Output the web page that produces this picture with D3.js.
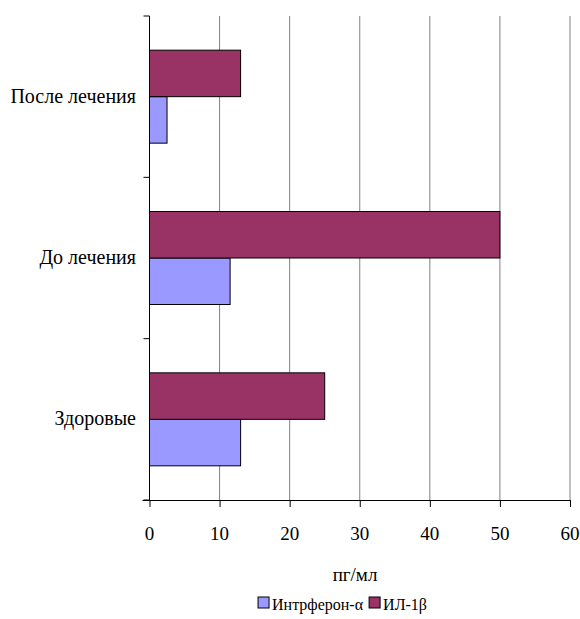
<!DOCTYPE html>
<html><head><meta charset="utf-8">
<script src="https://cdn.jsdelivr.net/npm/d3@7"></script>
</head><body style="margin:0;background:#fff">
<script>
const categories = ["Здоровые", "До лечения", "После лечения"];
const seriesNames = ["Интрферон-α", "ИЛ-1β"];
const interferon = [13, 11.5, 2.5];
const il1b = [25, 50, 13];
const xTicks = [0, 10, 20, 30, 40, 50, 60];
const xLabel = "пг/мл";
const colors = ["#9999FF", "#993366"];

(function () {
const FF = '"Liberation Serif", "Times New Roman", monospace';
const FS = 20;
const W = 580, H = 619;
const mL = 149.5, mR = 570, mT = 16, mB = 500;
const svg = d3.select("body").append("svg").attr("width", W).attr("height", H)
  .style("display", "block");

const x = d3.scaleLinear().domain([0, 60]).range([mL, mR]);
const y = d3.scaleBand().domain(categories.slice().reverse()).range([mT, mB]);
const inner = d3.scaleBand().domain(["ИЛ-1β", "Интрферон-α"]).range([0, y.bandwidth()]).paddingOuter(0.735).paddingInner(0);

// gridlines
svg.append("g").selectAll("line").data(xTicks.slice(1)).join("line")
  .attr("x1", d => x(d)).attr("x2", d => x(d)).attr("y1", mT).attr("y2", mB)
  .attr("stroke", "#808080").attr("stroke-width", 1);

// bars
const rows = categories.map((c, i) => ({c, vals: [{s: "Интрферон-α", v: interferon[i], col: colors[0]}, {s: "ИЛ-1β", v: il1b[i], col: colors[1]}]}));
svg.append("g").selectAll("g").data(rows).join("g")
  .attr("transform", d => `translate(0,${y(d.c)})`)
  .selectAll("rect").data(d => d.vals).join("rect")
  .attr("x", x(0)).attr("y", d => inner(d.s))
  .attr("width", d => x(d.v) - x(0)).attr("height", inner.bandwidth())
  .attr("fill", d => d.col).attr("stroke", "#000").attr("stroke-width", 1);

// x axis (lines via d3 axis, labels as plain text)
const xa = svg.append("g").attr("transform", `translate(0,${mB})`)
  .call(d3.axisBottom(x).tickValues(xTicks).tickSize(7).tickFormat("").tickSizeOuter(0));
xa.select(".domain").attr("d", `M${mL - 7},0.5H${mR}`).attr("stroke", "#000");
svg.append("g").selectAll("text").data(xTicks).join("text")
  .attr("x", d => x(d)).attr("y", 540).attr("text-anchor", "middle")
  .style("font-family", FF).attr("font-size", FS - 1).text(d => d);

// y axis
const yEdges = [0, 1, 2, 3].map(i => mT + i * y.step());
const ya = svg.append("g");
ya.append("line").attr("x1", mL).attr("x2", mL).attr("y1", mT).attr("y2", mB).attr("stroke", "#000");
ya.selectAll("line.t").data(yEdges).join("line").attr("class", "t")
  .attr("x1", mL - 6).attr("x2", mL).attr("y1", d => d).attr("y2", d => d).attr("stroke", "#000");
ya.selectAll("text").data(categories).join("text")
  .attr("x", 136).attr("y", d => y(d) + y.bandwidth() / 2 + 6)
  .attr("text-anchor", "end").attr("font-size", FS).style("font-family", FF).text(d => d);

// x label
svg.append("text").attr("x", 355).attr("y", 581).attr("text-anchor", "middle")
  .attr("font-size", FS - 1).style("font-family", FF).text(xLabel);

// legend
const lg = svg.append("g");
const items = seriesNames.map((n, i) => ({n, c: colors[i]}));
const texts = lg.selectAll("text").data(items).join("text")
  .attr("y", 610).attr("font-size", 16).style("font-family", FF).text(d => d.n);
const widths = texts.nodes().map(n => n.getComputedTextLength());
const box = 11, gap = 3, sep = 6;
const total = widths.reduce((a, w) => a + box + gap + w, 0) + sep;
let cx = 342.5 - total / 2;
items.forEach((d, i) => { d.x = cx; cx += box + gap + widths[i] + sep; });
texts.attr("x", d => d.x + box + gap);
lg.selectAll("rect").data(items).join("rect")
  .attr("x", d => d.x).attr("y", 597).attr("width", box).attr("height", box)
  .attr("fill", d => d.c).attr("stroke", "#000");
})();
</script>
</body></html>
